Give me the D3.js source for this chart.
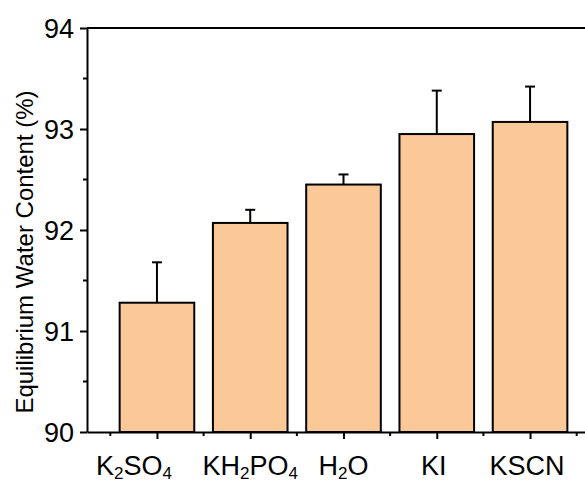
<!DOCTYPE html>
<html>
<head>
<meta charset="utf-8">
<script src="https://cdn.jsdelivr.net/npm/d3@7"></script>
<style>
  html, body { margin: 0; padding: 0; background: #fff; }
  svg { display: block; font-family: "Liberation Sans", Arial, sans-serif; }
</style>
</head>
<body>
<svg id="chart" width="585" height="482"></svg>
<script>
// Salt solutions and their equilibrium water content (%)
const categories = ["K2SO4", "KH2PO4", "H2O", "KI", "KSCN"];
// Label pieces: [text, isSubscript]
const labelParts = [
  [["K", false], ["2", true], ["SO", false], ["4", true]],
  [["KH", false], ["2", true], ["PO", false], ["4", true]],
  [["H", false], ["2", true], ["O", false]],
  [["KI", false]],
  [["KSCN", false]]
];
const means = [91.28, 92.07, 92.45, 92.95, 93.07];
const errors = [0.40, 0.13, 0.10, 0.43, 0.35];
const yTicks = [90, 91, 92, 93, 94];
const yMinorTicks = [90.5, 91.5, 92.5, 93.5];

const svg = d3.select("#chart");
const plotLeft = 87, plotTop = 28, plotBottom = 432, plotRight = 600;

// Category positions on a continuous index scale (axis runs past the view on the right)
const x = d3.scaleLinear().domain([-0.75, 4.75]).range([plotLeft, plotRight]);
const y = d3.scaleLinear().domain([90, 94]).range([plotBottom, plotTop]);
const barW = (x(1) - x(0)) * 0.8;

const ink = "#000";
const tickFont = 27;

// Bars
svg.append("g").selectAll("rect")
  .data(means)
  .join("rect")
  .attr("x", (d, i) => x(i) - barW / 2)
  .attr("y", d => y(d))
  .attr("width", barW)
  .attr("height", d => y(90) - y(d))
  .attr("fill", "#FBC898")
  .attr("stroke", ink)
  .attr("stroke-width", 2);

// Error bars (upper only)
const eg = svg.append("g").attr("stroke", ink).attr("stroke-width", 2);
means.forEach((m, i) => {
  eg.append("line")
    .attr("x1", x(i)).attr("x2", x(i))
    .attr("y1", y(m)).attr("y2", y(m + errors[i]));
  eg.append("line")
    .attr("x1", x(i) - 5).attr("x2", x(i) + 5)
    .attr("y1", y(m + errors[i])).attr("y2", y(m + errors[i]));
});

// Y axis
const yAxis = svg.append("g").attr("transform", `translate(${plotLeft},0)`)
  .call(d3.axisLeft(y).tickValues(yTicks).tickFormat(d3.format("d")).tickSize(7).tickSizeOuter(0));
yAxis.append("g").selectAll("line")
  .data(yMinorTicks).join("line")
  .attr("x1", 0).attr("x2", -4)
  .attr("y1", d => y(d)).attr("y2", d => y(d));

// X axis at the bottom
const xAxis = svg.append("g").attr("transform", `translate(0,${plotBottom})`)
  .call(d3.axisBottom(x).tickValues(d3.range(categories.length)).tickFormat("").tickSize(7).tickSizeOuter(0));
xAxis.append("g").selectAll("line")
  .data(d3.range(-0.5, 5, 1)).join("line")
  .attr("x1", d => x(d)).attr("x2", d => x(d))
  .attr("y1", 0).attr("y2", 4);

// Top frame line
svg.append("line")
  .attr("x1", plotLeft).attr("x2", plotRight)
  .attr("y1", plotTop).attr("y2", plotTop)
  .attr("stroke", ink).attr("stroke-width", 2);

[yAxis, xAxis].forEach(g => {
  g.selectAll(".domain").attr("stroke", ink).attr("stroke-width", 2);
  g.selectAll("line").attr("stroke", ink).attr("stroke-width", 2);
  g.selectAll("text").attr("fill", ink).attr("font-size", tickFont)
    .attr("font-family", "Liberation Sans, Arial, sans-serif");
});
yAxis.selectAll(".tick text").attr("x", -13).attr("dy", "0.36em");

// Category labels with subscripts; the first one sits left of its tick
const labelNudge = [-23, 0, 0, -3, -3];
labelParts.forEach((parts, i) => {
  const t = svg.append("text")
    .attr("x", x(i) + labelNudge[i]).attr("y", 475)
    .attr("text-anchor", "middle")
    .attr("font-size", tickFont)
    .attr("fill", ink);
  let shifted = false;
  parts.forEach(([s, sub]) => {
    const span = t.append("tspan").text(s);
    if (sub) { span.attr("font-size", 17).attr("dy", 4); shifted = true; }
    else if (shifted) { span.attr("dy", -4); shifted = false; }
  });
});

// Y axis title
svg.append("text")
  .attr("transform", "translate(33,252) rotate(-90)")
  .attr("text-anchor", "middle")
  .attr("font-size", 24)
  .attr("fill", ink)
  .text("Equilibrium Water Content (%)");
</script>
</body>
</html>
